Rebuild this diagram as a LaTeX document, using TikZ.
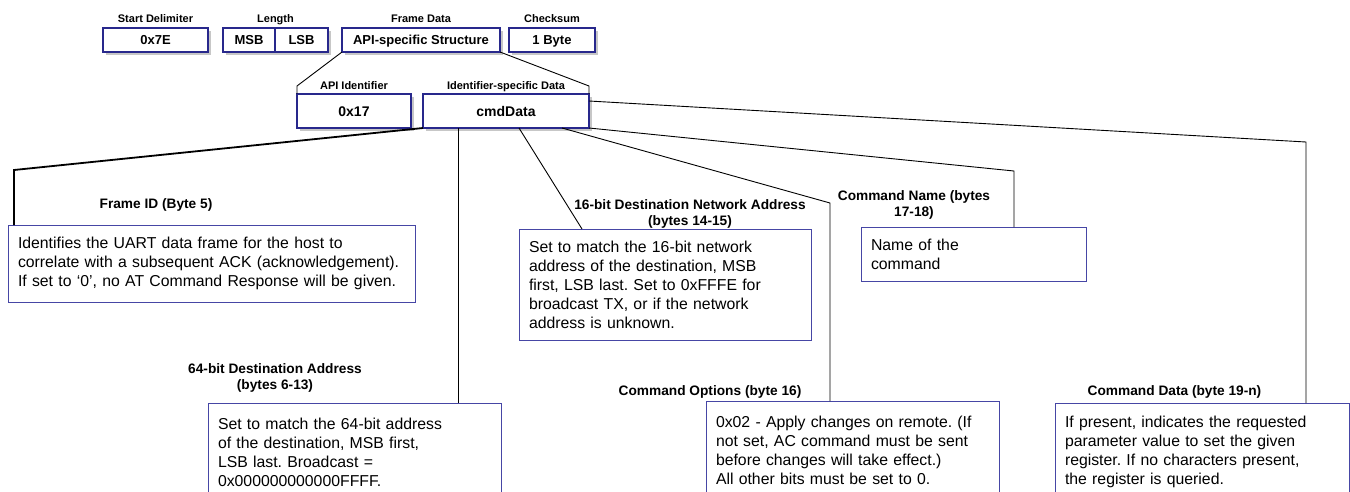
\documentclass[tikz,border=0pt]{standalone}
\usepackage{fontspec}
\setmainfont{Liberation Sans}
\usetikzlibrary{shadows,calc}
\definecolor{boxblue}{RGB}{40,40,140}
\definecolor{descblue}{RGB}{70,70,165}
\frenchspacing
\begin{document}
\begin{tikzpicture}[x=1pt,y=-1pt,
  fieldbox/.style={draw=boxblue, line width=1.2pt, fill=white, inner sep=0pt, outer sep=0pt,
    drop shadow={shadow xshift=3pt, shadow yshift=-3pt, fill=black!22, opacity=1},
    font=\bfseries\fontsize{13}{15}\selectfont, text height=9.3pt, text depth=0pt, minimum height=24pt},
  fieldboxb/.style={fieldbox, font=\bfseries\fontsize{14}{16}\selectfont, text height=10pt, minimum height=34pt},
  toplabel/.style={font=\bfseries\fontsize{11}{13}\selectfont, inner sep=0pt, anchor=base},
  desclabel/.style={font=\bfseries\fontsize{13.7}{16.5}\selectfont, inner sep=0pt, align=center},
  descbox/.style={draw=descblue, line width=1pt, fill=white, anchor=north west, outer sep=0pt,
    inner xsep=10pt, inner ysep=12pt, align=left, font=\fontsize{15.8}{19}\selectfont},
  conn/.style={draw=black, line width=0.9pt},
  connthick/.style={draw=black, line width=1.8pt},
]
\useasboundingbox (0,0) rectangle (1350,491);
\clip (0,0) rectangle (1350,491);

% top row
\node[fieldbox, minimum width=105pt] (sd) at (155.5,40) {0x7E};
\node[fieldbox, minimum width=52pt] (msb) at (249,40) {MSB};
\node[fieldbox, minimum width=53pt] (lsb) at (301.5,40) {LSB};
\node[fieldbox, minimum width=158pt] (fd) at (421,40) {API-specific Structure};
\node[fieldbox, minimum width=86pt] (cs) at (552,40) {1 Byte};
\node[toplabel] (lsd) at (155.5,22.8) {Start Delimiter};
\node[toplabel] (llen) at (275.5,22.8) {Length};
\node[toplabel] (lfd) at (421,22.8) {Frame Data};
\node[toplabel] (lcs) at (552,22.8) {Checksum};

% second row
\node[fieldboxb, minimum width=114pt] (api) at (354,111) {0x17};
\node[fieldboxb, minimum width=166pt] (isd) at (506,111) {cmdData};
\node[toplabel] (lapi) at (354,89.5) {API Identifier};
\node[toplabel] (lisd) at (506,89.5) {Identifier-specific Data};

\coordinate (b1) at (297,86);
\coordinate (b2) at (589,86);
\draw[conn] (fd.south west) -- (b1) -- (api.north west);
\draw[conn] (fd.south east) -- (b2) -- (isd.north east);

% description boxes
\node[descbox, text width=387pt, minimum height=77pt] (fid) at (8,225)
  {Identifies the UART data frame for the host to\\
   \mbox{correlate with a subsequent ACK (acknowledgement).}\\
   If set to ‘0’, no AT Command Response will be given.};
\node[desclabel, anchor=base] (lfid) at (156,208.5) {Frame ID (Byte 5)};

\node[descbox, text width=272pt, minimum height=109pt] (sixteen) at (519,229)
  {Set to match the 16-bit network\\
   address of the destination, MSB\\
   first, LSB last. Set to 0xFFFE for\\
   broadcast TX, or if the network\\
   address is unknown.};
\node[desclabel, anchor=north] (l16) at (690,199) {16-bit Destination Network Address\\(bytes 14-15)};

\node[descbox, text width=205pt, minimum height=52pt] (cname) at (861,227)
  {Name of the\\command};
\node[desclabel, anchor=north] (lcname) at (914,190) {Command Name (bytes\\17-18)};

\node[descbox, text width=273pt, minimum height=98pt] (sixtyfour) at (208,403)
  {Set to match the 64-bit address\\
   of the destination, MSB first,\\
   LSB last. Broadcast =\\
   0x000000000000FFFF.};
\node[desclabel, anchor=north] (l64) at (275,363) {64-bit Destination Address\\(bytes 6-13)};

\node[descbox, text width=273pt, minimum height=98pt] (copts) at (706,401)
  {0x02 - Apply changes on remote. (If\\
   not set, AC command must be sent\\
   before changes will take effect.)\\
   All other bits must be set to 0.};
\node[desclabel, anchor=base] (lcopts) at (710,395.7) {Command Options (byte 16)};

\node[descbox, text width=274pt, minimum height=98pt] (cdata) at (1055,403)
  {If present, indicates the requested\\
   parameter value to set the given\\
   register. If no characters present,\\
   the register is queried.};
\node[desclabel, anchor=base] (lcdata) at (1174.5,395.5) {Command Data (byte 19-n)};

% connectors from cmdData
\coordinate (c1) at (14,170);
\draw[connthick] (isd.south west) -- (c1) -- ($(fid.north west)+(6,0)$);
\draw[conn] ($(isd.south west)+(35,0)$) -- ($(sixtyfour.north west)+(250,0)$);
\draw[conn] ($(isd.south west)+(96,0)$) -- ($(sixteen.north west)+(63,0)$);
\coordinate (c4) at (830,203);
\draw[conn] ($(isd.south west)+(139,0)$) -- (c4) -- ($(copts.north west)+(124,0)$);
\coordinate (c5) at (1014,171);
\draw[conn] (isd.south east) -- (c5) -- ($(cname.north west)+(153,0)$);
\coordinate (c6) at (1306,142);
\draw[conn] ($(isd.north east)+(0,7)$) -- (c6) -- ($(cdata.north west)+(251,0)$);
\end{tikzpicture}
\end{document}
